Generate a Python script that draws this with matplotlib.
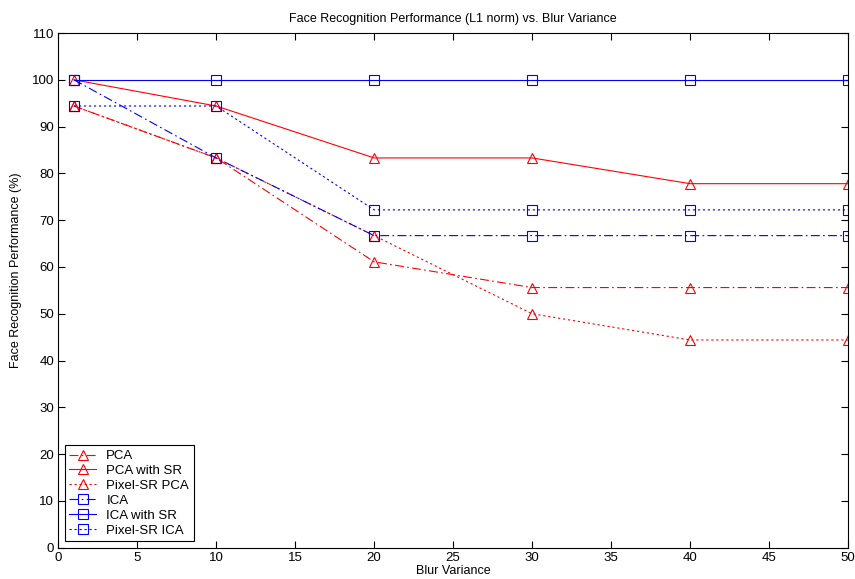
import numpy as np
import matplotlib.pyplot as plt

plt.rcParams['font.family'] = ['Liberation Sans', 'DejaVu Sans']

blur = [1, 10, 20, 30, 40, 50]
pca = [94.4, 83.3, 61.1, 55.6, 55.6, 55.6]
pca_sr = [100, 94.4, 83.3, 83.3, 77.8, 77.8]
pixel_pca = [94.4, 83.3, 66.7, 50.0, 44.4, 44.4]
ica = [100, 83.3, 66.7, 66.7, 66.7, 66.7]
ica_sr = [100, 100, 100, 100, 100, 100]
pixel_ica = [94.4, 94.4, 72.2, 72.2, 72.2, 72.2]

dashdot = (0, (8, 3, 1.5, 3))
dotted = (0, (2, 2.5))

fig = plt.figure(figsize=(8.55, 5.79), dpi=100)
ax = fig.add_axes([0.068, 0.054, 0.924, 0.889])

kw = dict(lw=0.8, ms=6.5, mfc='none', mew=0.8)
ax.plot(blur, pca, color='#ff0000', mec='#ff0000', ls=dashdot, marker='^', label='PCA', **kw)
ax.plot(blur, pca_sr, color='#ff0000', mec='#ff0000', ls='-', marker='^', label='PCA with SR', **kw)
ax.plot(blur, pixel_pca, color='#ff0000', mec='#ff0000', ls=dotted, marker='^', label='Pixel-SR PCA', **kw)
ax.plot(blur, ica, color='#0000ff', mec='#0000ff', ls=dashdot, marker='s', label='ICA', **kw)
ax.plot(blur, ica_sr, color='#0000ff', mec='#0000ff', ls='-', marker='s', label='ICA with SR', **kw)
ax.plot(blur, pixel_ica, color='#0000ff', mec='#0000ff', ls=dotted, marker='s', label='Pixel-SR ICA', **kw)

ax.set_xlim(0, 50)
ax.set_ylim(0, 110)
ax.set_xticks(np.arange(0, 51, 5))
ax.set_yticks(np.arange(0, 111, 10))
ax.tick_params(direction='in', top=True, right=True, labelsize=9.5, length=5, pad=3)
for s in ax.spines.values():
    s.set_linewidth(0.8)

ax.set_title('Face Recognition Performance (L1 norm) vs. Blur Variance', fontsize=9, pad=8)
ax.set_xlabel('Blur Variance', fontsize=9, labelpad=1)
ax.set_ylabel('Face Recognition Performance (%)', fontsize=9)
ax.yaxis.set_label_coords(-0.046, 0.54)

leg = ax.legend(loc='lower left', fontsize=9.5, fancybox=False, edgecolor='k',
                framealpha=1, handlelength=2.0, borderaxespad=0.5, labelspacing=0.2,
                borderpad=0.35)
leg.get_frame().set_linewidth(0.8)

fig.savefig('out.png', dpi=100)
